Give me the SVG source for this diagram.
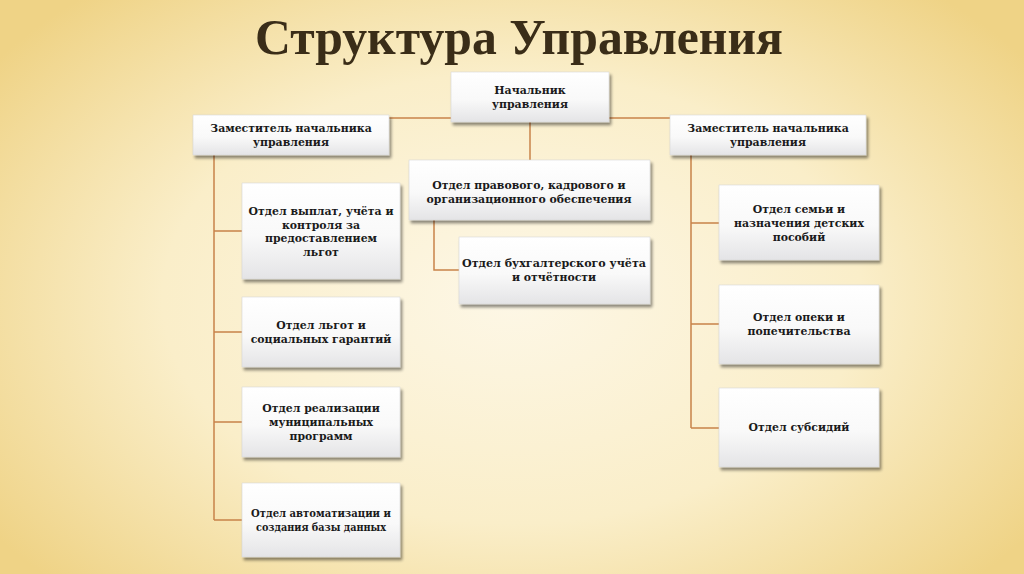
<svg xmlns="http://www.w3.org/2000/svg" width="1024" height="574" viewBox="0 0 1024 574">
<defs>
<radialGradient id="bg" cx="0.5" cy="0.52" r="0.62" gradientTransform="translate(0.5 0.52) scale(1 1.15) translate(-0.5 -0.52)">
<stop offset="0" stop-color="#fdf7e6"/>
<stop offset="0.55" stop-color="#faeec9"/>
<stop offset="1" stop-color="#efd386"/>
</radialGradient>
<linearGradient id="box" x1="0" y1="0" x2="0" y2="1">
<stop offset="0" stop-color="#ffffff"/>
<stop offset="0.55" stop-color="#f9f9f9"/>
<stop offset="1" stop-color="#e4e4e6"/>
</linearGradient>
<filter id="sh" x="-10%" y="-10%" width="125%" height="130%">
<feGaussianBlur in="SourceAlpha" stdDeviation="1.6"/>
<feOffset dx="1.5" dy="2.5" result="b"/>
<feComponentTransfer><feFuncA type="linear" slope="0.45"/></feComponentTransfer>
<feMerge><feMergeNode/><feMergeNode in="SourceGraphic"/></feMerge>
</filter>
</defs>
<style>
.b{fill:url(#box);stroke:#d8d8d8;stroke-width:0.6;filter:url(#sh)}
.t{font-family:"DejaVu Serif","Liberation Serif",serif;font-weight:bold;font-size:10.9px;fill:#1a1a1a;text-anchor:middle}
.c{stroke:#c8834a;stroke-width:1.5;fill:none}
</style>
<rect width="1024" height="574" fill="url(#bg)"/>
<text x="519" y="54" font-family="Liberation Serif, serif" font-weight="bold" font-size="50" fill="#3a2d18" text-anchor="middle" textLength="528" lengthAdjust="spacingAndGlyphs">Структура Управления</text>

<g id="connectors">
<path class="c" d="M290 118 H770"/>
<path class="c" d="M530 122 V160"/>
<path class="c" d="M214 155 V520 M214 231 H242 M214 332 H242 M214 422 H242 M214 520 H242"/>
<path class="c" d="M691 155 V428 M691 223 H719 M691 324 H719 M691 428 H719"/>
<path class="c" d="M434 220 V270 H459"/>
</g>

<g id="head"><rect class="b" x="451" y="72" width="158" height="50"/>
<text class="t" x="530" y="94">Начальник</text><text class="t" x="530" y="107.5">управления</text></g>

<g id="deputy-left"><rect class="b" x="193" y="115" width="196" height="40"/>
<text class="t" x="291" y="132">Заместитель начальника</text><text class="t" x="291" y="145.5">управления</text></g>

<g id="deputy-right"><rect class="b" x="670" y="115" width="196" height="40"/>
<text class="t" x="768" y="132">Заместитель начальника</text><text class="t" x="768" y="145.5">управления</text></g>

<g id="legal"><rect class="b" x="409" y="160" width="241" height="60"/>
<text class="t" x="529" y="189">Отдел правового, кадрового и</text><text class="t" x="529" y="202.5">организационного обеспечения</text></g>

<g id="accounting"><rect class="b" x="459" y="237" width="191" height="67"/>
<text class="t" x="554" y="267" textLength="184" lengthAdjust="spacingAndGlyphs">Отдел бухгалтерского учёта</text><text class="t" x="554" y="281">и отчётности</text></g>

<g id="payments"><rect class="b" x="242" y="183" width="158" height="96"/>
<text class="t" x="321" y="215">Отдел выплат, учёта и</text><text class="t" x="321" y="228.5">контроля за</text><text class="t" x="321" y="242">предоставлением</text><text class="t" x="321" y="255.5">льгот</text></g>

<g id="benefits"><rect class="b" x="242" y="297" width="158" height="70"/>
<text class="t" x="321" y="329">Отдел льгот и</text><text class="t" x="321" y="343">социальных гарантий</text></g>

<g id="programs"><rect class="b" x="242" y="387" width="158" height="70"/>
<text class="t" x="321" y="412">Отдел реализации</text><text class="t" x="321" y="426">муниципальных</text><text class="t" x="321" y="440">программ</text></g>

<g id="automation"><rect class="b" x="242" y="483" width="158" height="74"/>
<text class="t" x="321" y="517" textLength="140" lengthAdjust="spacingAndGlyphs">Отдел автоматизации и</text><text class="t" x="321" y="531" textLength="130" lengthAdjust="spacingAndGlyphs">создания базы данных</text></g>

<g id="family"><rect class="b" x="719" y="185" width="160" height="75"/>
<text class="t" x="799" y="213">Отдел семьи и</text><text class="t" x="799" y="227">назначения детских</text><text class="t" x="799" y="241">пособий</text></g>

<g id="guardianship"><rect class="b" x="719" y="285" width="160" height="79"/>
<text class="t" x="799" y="321">Отдел опеки и</text><text class="t" x="799" y="335">попечительства</text></g>

<g id="subsidies"><rect class="b" x="719" y="388" width="160" height="79"/>
<text class="t" x="799" y="431">Отдел субсидий</text></g>
</svg>
